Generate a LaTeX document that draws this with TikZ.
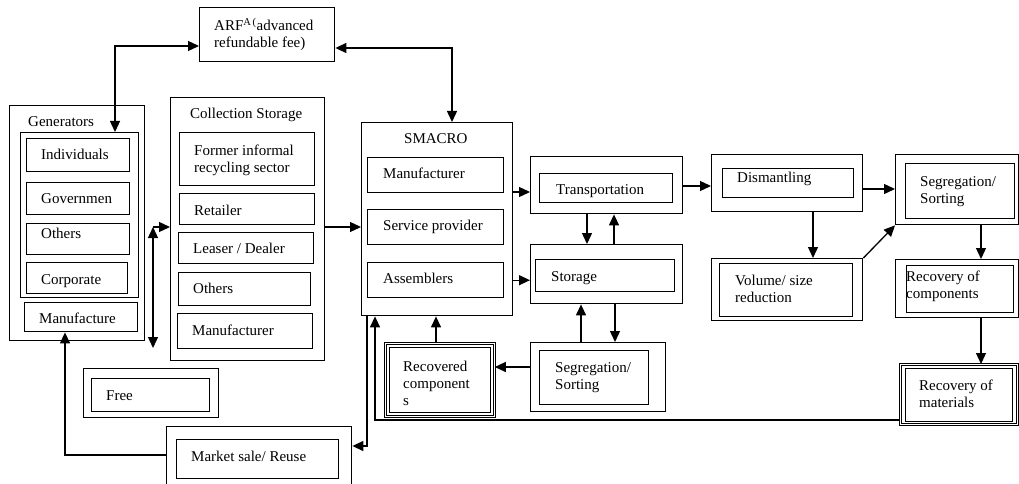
\documentclass[tikz,border=0pt]{standalone}
\usepackage{fontspec}
\setmainfont{Liberation Serif}
\usetikzlibrary{arrows.meta}
\newcommand\fs{\fontsize{15}{17}\selectfont}
\tikzset{
  bx/.style={draw, line width=1.4pt, inner sep=0pt},
  dbl/.style={double, double distance=1.6pt, line width=0.8pt},
  lbl/.style={anchor=base west, align=left, inner sep=0pt, yshift=-5pt},
  tip/.tip={Triangle[length=11pt,width=10pt]},
  arr/.style={line width=1.3pt, -tip},
  darr/.style={line width=1.3pt, tip-tip}
}
\newcommand\rbox[6][]{\pgfmathsetmacro\rbw{#5-#3}\pgfmathsetmacro\rbh{#6-#4}%
  \node[bx,#1,anchor=north west,minimum width=\rbw pt,minimum height=\rbh pt] (#2) at (#3,#4) {};}
% x, y of the LAST line's centre
\newcommand\txt[4]{\node[lbl] (#1) at (#2,#3) {#4};}
\begin{document}
\begin{tikzpicture}[x=1pt,y=-1pt,font=\fs]
\clip (0,0) rectangle (1019,484);
% ARF
\rbox{arf}{199}{7}{334}{61}
\txt{tarf}{214}{43}{ARF\textsuperscript{A\,(}advanced\\refundable fee)}
% Generators
\rbox{gen}{9}{105}{144}{340}
\txt{tgen}{28}{122}{Generators}
\rbox{gi}{20}{132}{138}{297}
\rbox{ind}{26}{138}{129}{171}
\txt{tind}{41}{154}{Individuals}
\rbox{gov}{26}{182}{129}{214}
\txt{tgov}{41}{198}{Governmen}
\rbox{goth}{26}{223}{129}{254}
\txt{tgoth}{41}{233}{Others}
\rbox{corp}{26}{262}{127}{293}
\txt{tcorp}{41}{279}{Corporate}
\rbox{gmanu}{24}{302}{137}{331}
\txt{tgmanu}{39}{318}{Manufacture}
% Collection storage
\rbox{cs}{170}{97}{324}{360}
\txt{tcs}{190}{114}{Collection Storage}
\rbox{former}{179}{132}{314}{185}
\txt{tformer}{194}{167}{Former informal\\recycling sector}
\rbox{retail}{179}{193}{314}{224}
\txt{tretail}{194}{210}{Retailer}
\rbox{leaser}{178}{232}{313}{263}
\txt{tleaser}{193}{248}{Leaser / Dealer}
\rbox{csoth}{178}{272}{310}{305}
\txt{tcsoth}{193}{288}{Others}
\rbox{csmanu}{177}{313}{312}{348}
\txt{tcsmanu}{192}{330}{Manufacturer}
% SMACRO
\rbox{smacro}{361}{122}{512}{315}
\txt{tsmacro}{404}{138}{SMACRO}
\rbox{smanu}{367}{157}{503}{192}
\txt{tsmanu}{383}{173}{Manufacturer}
\rbox{service}{367}{209}{503}{244}
\txt{tservice}{383}{225}{Service provider}
\rbox{assem}{367}{262}{503}{297}
\txt{tassem}{383}{278}{Assemblers}
% Transportation / Storage / Segregation
\rbox{trans}{530}{156}{682}{213}
\rbox{transin}{539}{173}{672}{202}
\txt{ttrans}{556}{189}{Transportation}
\rbox{stor}{530}{244}{682}{303}
\rbox{storin}{535}{259}{674}{291}
\txt{tstor}{551}{276}{Storage}
\rbox{segm}{530}{342}{665}{411}
\rbox{segmin}{539}{350}{648}{404}
\txt{tsegm}{555}{384}{Segregation/\\Sorting}
% Recovered components
\rbox[dbl]{reccomp}{385}{343}{494}{416}
\rbox{reccompin}{389}{347}{490}{412}
\txt{treccomp}{403}{400}{Recovered\\component\\s}
% Free
\rbox{free}{83}{368}{218}{417}
\rbox{freein}{91}{378}{209}{411}
\txt{tfree}{106}{395}{Free}
% Market
\rbox{market}{166}{426}{351}{492}
\rbox{marketin}{176}{439}{338}{478}
\txt{tmarket}{191}{456}{Market sale/ Reuse}
% Dismantling etc
\rbox{dism}{711}{154}{862}{211}
\rbox{dismin}{722}{168}{853}{197}
\txt{tdism}{737}{177}{Dismantling}
\rbox{vol}{711}{258}{862}{320}
\rbox{volin}{719}{263}{852}{316}
\txt{tvol}{735}{297}{Volume/ size\\reduction}
\rbox{segr}{895}{154}{1018}{224}
\rbox{segrin}{905}{163}{1014}{218}
\txt{tsegr}{920}{198}{Segregation/\\Sorting}
\rbox{rcomp}{895}{259}{1018}{317}
\rbox{rcompin}{906}{265}{1013}{312}
\txt{trcomp}{906}{293}{Recovery of\\components}
\rbox[dbl]{rmat}{900}{364}{1017}{424}
\rbox{rmatin}{905}{368}{1012}{421}
\txt{trmat}{919}{402}{Recovery of\\materials}
% coordinates
\coordinate (c1) at (115,46);
\coordinate (c2) at (452,48);
\coordinate (c3) at (153,227);
\coordinate (c4) at (153,348);
\coordinate (y192) at (0,192);
\coordinate (x587) at (587,0);
\coordinate (x614) at (614,0);
\coordinate (x581) at (581,0);
\coordinate (x615) at (615,0);
\coordinate (y367) at (0,367);
\coordinate (x436) at (436,0);
\coordinate (c5) at (367,446);
\coordinate (c6) at (375,420);
\coordinate (c7) at (65,455);
\coordinate (y186) at (0,186);
\coordinate (y189) at (0,189);
\coordinate (x813) at (813,0);
\coordinate (x981) at (981,0);
% connectors
\draw[darr] (c1 |- gi.north) -- (c1) -- (c1 -| arf.west);
\draw[darr] (c2 -| arf.east) -- (c2) -- (c2 |- smacro.north);
\draw[arr] (c3) -- (c3 -| cs.west);
\draw[darr] (c3) -- (c4);
\draw[arr] (c3 -| cs.east) -- (c3 -| smacro.west);
\draw[arr] (y192 -| smacro.east) -- (y192 -| trans.west);
\draw[arr] (assem -| smacro.east) -- (assem -| stor.west);
\draw[arr] (trans.south -| x587) -- (stor.north -| x587);
\draw[arr] (stor.north -| x614) -- (trans.south -| x614);
\draw[arr] (segm.north -| x581) -- (stor.south -| x581);
\draw[arr] (stor.south -| x615) -- (segm.north -| x615);
\draw[arr] (y367 -| segm.west) -- (y367 -| reccomp.east);
\draw[arr] (reccomp.north -| x436) -- (smacro.south -| x436);
\draw[arr] (smacro.south -| c5) -- (c5) -- (c5 -| market.east);
\draw[arr] (c6 -| rmat.west) -- (c6) -- (smacro.south -| c6);
\draw[arr] (c7 -| market.west) -- (c7) -- (gmanu.south -| c7);
\draw[arr] (y186 -| trans.east) -- (y186 -| dism.west);
\draw[arr] (dism.south -| x813) -- (vol.north -| x813);
\draw[arr] (y189 -| dism.east) -- (y189 -| segr.west);
\draw[arr] (vol.north east) -- (segr.south west);
\draw[arr] (segr.south -| x981) -- (rcomp.north -| x981);
\draw[arr] (rcomp.south -| x981) -- (rmat.north -| x981);
\end{tikzpicture}
\end{document}
